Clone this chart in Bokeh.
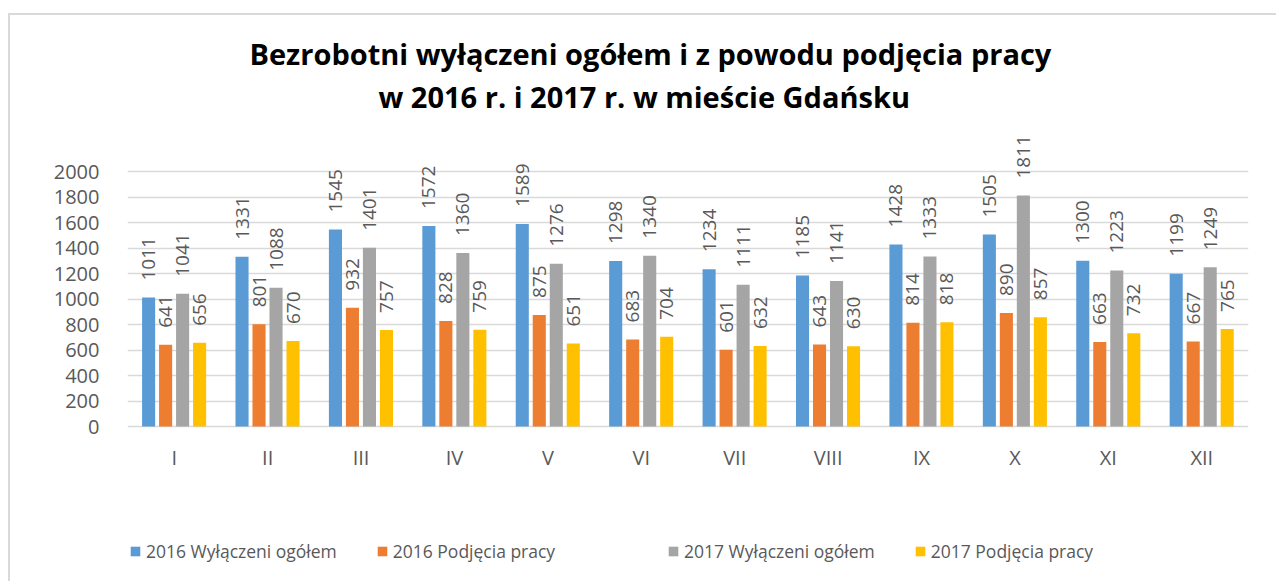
import math
from bokeh.plotting import figure
from bokeh.models import (ColumnDataSource, Range1d, FixedTicker, Legend,
                          LegendItem, Title)
from bokeh.core.properties import value
from bokeh.embed import file_html
from bokeh.resources import INLINE

months = ["I", "II", "III", "IV", "V", "VI", "VII", "VIII", "IX", "X", "XI", "XII"]
w2016 = [1011, 1331, 1545, 1572, 1589, 1298, 1234, 1185, 1428, 1505, 1300, 1199]
p2016 = [641, 801, 932, 828, 875, 683, 601, 643, 814, 890, 663, 667]
w2017 = [1041, 1088, 1401, 1360, 1276, 1340, 1111, 1141, 1333, 1811, 1223, 1249]
p2017 = [656, 670, 757, 759, 651, 704, 632, 630, 818, 857, 732, 765]
series_names = ["2016 Wyłączeni ogółem", "2016 Podjęcia pracy",
                "2017 Wyłączeni ogółem", "2017 Podjęcia pracy"]
series_values = [w2016, p2016, w2017, p2017]
colors = ["#5B9BD5", "#ED7D31", "#A5A5A5", "#FFC000"]
offsets = [-0.274, -0.092, 0.09, 0.272]
y_ticks = list(range(0, 2001, 200))
title_lines = ["Bezrobotni wyłączeni ogółem i z powodu podjęcia pracy",
               "w 2016 r. i 2017 r. w mieście Gdańsku"]

FONT = "Open Sans"
TXT = "#595959"
PX_PER_UNIT = 306 / 2400.0

# canvas starts at (10, 15) of the window, after margin + 2px border;
# the frame runs down to the bottom so the legend can sit inside it
p = figure(frame_width=1121, frame_height=461, output_backend="svg",
           toolbar_location=None, x_axis_location=None,
           x_range=Range1d(0, 12), y_range=Range1d(-155 / PX_PER_UNIT, 2400),
           min_border_left=117, min_border_right=28, min_border_top=105,
           min_border_bottom=0)
p.margin = (13, 0, 0, 8)
p.styles = {"border-left": "2px solid #D9D9D9", "border-top": "2px solid #D9D9D9"}
p.outline_line_color = None
p.background_fill_color = "white"
p.border_fill_color = "white"

centers = [i + 0.5 for i in range(len(months))]
items = []
for name, vals, col, off in zip(series_names, series_values, colors, offsets):
    src = ColumnDataSource(dict(x=[c + off for c in centers], top=vals,
                                lab=[str(v) for v in vals]))
    r = p.vbar(x="x", top="top", width=0.14, bottom=0, source=src,
               fill_color=col, line_color=None)
    p.text(x="x", y="top", text="lab", source=src, angle=math.pi / 2,
           text_align="left", text_baseline="middle", y_offset=-17,
           text_font=value(FONT), text_font_size="19px", text_color=TXT)
    items.append(LegendItem(label=name, renderers=[r]))

# category labels under the groups
msrc = ColumnDataSource(dict(x=centers, y=[0] * len(centers), m=months))
p.text(x="x", y="y", text="m", source=msrc, text_align="center",
       text_baseline="middle", y_offset=31, text_font=value(FONT),
       text_font_size="20px", text_color=TXT)

p.xgrid.visible = False
p.ygrid.ticker = FixedTicker(ticks=y_ticks)
p.ygrid.grid_line_color = "#D9D9D9"
p.ygrid.grid_line_width = 1.5

p.yaxis.ticker = FixedTicker(ticks=y_ticks)
p.yaxis.axis_line_color = None
p.yaxis.major_tick_line_color = None
p.yaxis.minor_tick_line_color = None
p.yaxis.major_label_standoff = 22
p.yaxis.major_label_text_font = FONT
p.yaxis.major_label_text_font_size = "20px"
p.yaxis.major_label_text_color = TXT

leg_kw = dict(orientation="horizontal", glyph_width=12, glyph_height=12,
              label_standoff=5, spacing=39, label_text_font=FONT,
              label_text_font_size="17.5px", label_text_color=TXT,
              border_line_color=None, background_fill_alpha=0,
              margin=0, padding=0)
p.add_layout(Legend(items=items[:2], location=(2, 18), **leg_kw))
p.add_layout(Legend(items=items[2:], location=(540, 18), **leg_kw))

for line, so, off in zip(reversed(title_lines), [10, -6], [251, 122]):
    p.add_layout(Title(text=line, align="left", offset=off, standoff=so,
                       text_font=FONT, text_font_style="bold",
                       text_font_size="29px", text_color="#000000"), "above")

open("out.html", "w").write(file_html(p, INLINE))
